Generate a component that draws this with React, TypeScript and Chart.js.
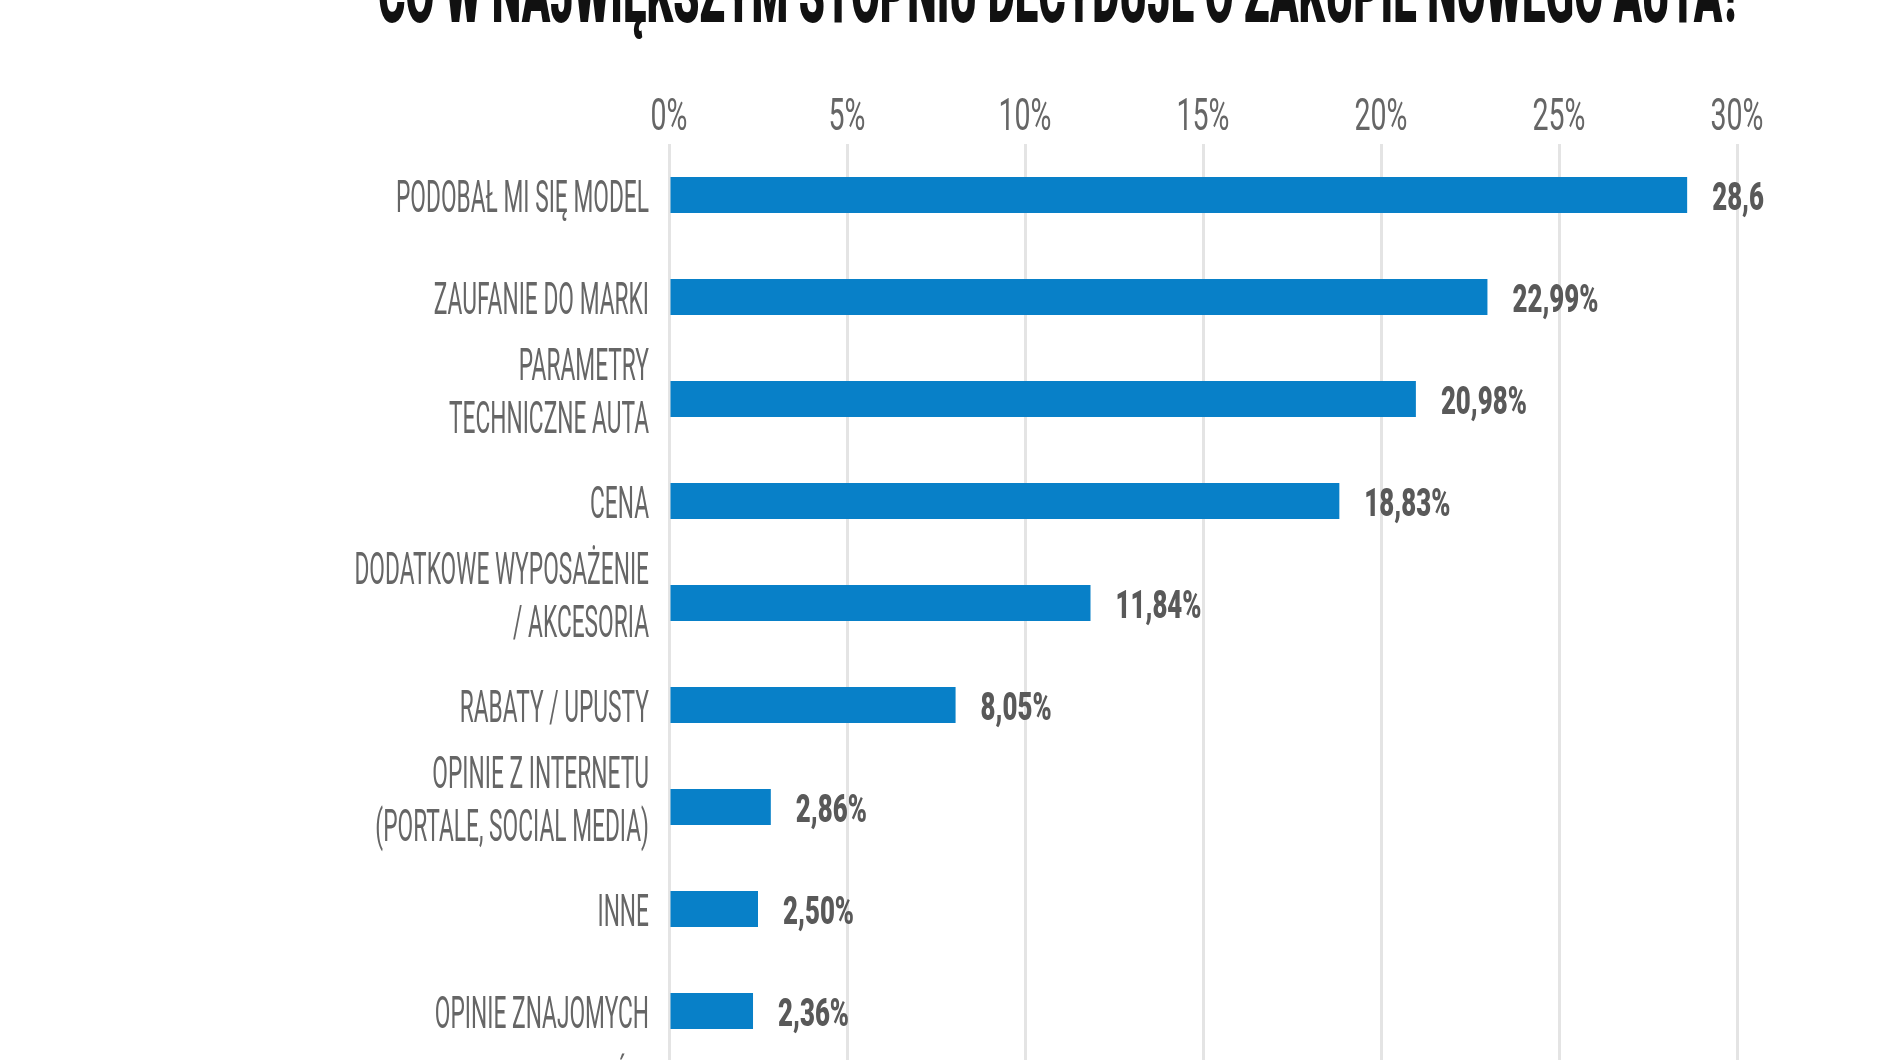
import React, { useEffect, useRef } from "react";
import { Chart, registerables } from "chart.js";

Chart.register(...registerables);

const TITLE = "CO W NAJWIĘKSZYM STOPNIU DECYDUJE O ZAKUPIE NOWEGO AUTA?";

const categories: string[][] = [
  ["PODOBAŁ MI SIĘ MODEL"],
  ["ZAUFANIE DO MARKI"],
  ["PARAMETRY", "TECHNICZNE AUTA"],
  ["CENA"],
  ["DODATKOWE WYPOSAŻENIE", "/ AKCESORIA"],
  ["RABATY / UPUSTY"],
  ["OPINIE Z INTERNETU", "(PORTALE, SOCIAL MEDIA)"],
  ["INNE"],
  ["OPINIE ZNAJOMYCH"],
  ["PALETA SILNIKÓW", ""],
];

const values: number[] = [28.6, 22.99, 20.98, 18.83, 11.84, 8.05, 2.86, 2.5, 2.36, 2.0];

const valueLabels: string[] = [
  "28,6",
  "22,99%",
  "20,98%",
  "18,83%",
  "11,84%",
  "8,05%",
  "2,86%",
  "2,50%",
  "2,36%",
  "2,00%",
];

const xTicks: number[] = [0, 5, 10, 15, 20, 25, 30];
const xTickLabels: string[] = ["0%", "5%", "10%", "15%", "20%", "25%", "30%"];

const BAR_COLOR = "#0880c8";
const LABEL_COLOR = "#666666";
const VALUE_COLOR = "#595959";

function scaleFor(ctx: CanvasRenderingContext2D, font: string, ref: string, target: number) {
  ctx.font = font;
  const w = ctx.measureText(ref).width;
  return w > 0 ? target / w : 1;
}

function drawScaled(
  ctx: CanvasRenderingContext2D,
  text: string,
  x: number,
  y: number,
  sx: number,
  align: CanvasTextAlign
) {
  ctx.save();
  ctx.translate(x, y);
  ctx.scale(sx, 1);
  ctx.textAlign = align;
  ctx.textBaseline = "alphabetic";
  ctx.fillText(text, 0, 0);
  ctx.restore();
}

const textPlugin = {
  id: "condensedText",
  afterDraw(chart: any) {
    const ctx: CanvasRenderingContext2D = chart.ctx;
    const xs = chart.scales.x;
    const ys = chart.scales.y;

    // Title
    const titleFont = '900 84px Roboto, "Open Sans", sans-serif';
    const tsx = scaleFor(ctx, titleFont, TITLE, 1364);
    ctx.font = titleFont;
    ctx.fillStyle = "#111111";
    drawScaled(ctx, TITLE, 1060, 22, tsx, "center");

    // Tick labels
    const tickFont = '400 44px Roboto, "Open Sans", sans-serif';
    const ksx = scaleFor(ctx, tickFont, "30%", 53);
    ctx.font = tickFont;
    ctx.fillStyle = LABEL_COLOR;
    xTicks.forEach((t, i) => {
      drawScaled(ctx, xTickLabels[i], xs.getPixelForValue(t), 129.5, ksx, "center");
    });

    // Category labels
    const labFont = '400 44px Roboto, "Open Sans", sans-serif';
    const lsx = scaleFor(ctx, labFont, "PODOBAŁ MI SIĘ MODEL", 253);
    ctx.font = labFont;
    ctx.fillStyle = LABEL_COLOR;
    categories.forEach((lines, i) => {
      const cy = ys.getPixelForValue(i);
      if (lines.length === 1) {
        drawScaled(ctx, lines[0], 649, cy + 1 + 15.5, lsx, "right");
      } else {
        drawScaled(ctx, lines[0], 649, cy - 35 + 15.5, lsx, "right");
        drawScaled(ctx, lines[1], 649, cy + 18 + 15.5, lsx, "right");
      }
    });

    // Value labels
    const valFont = '900 38px Roboto, "Open Sans", sans-serif';
    const vsx = scaleFor(ctx, valFont, "22,99%", 86);
    ctx.font = valFont;
    ctx.fillStyle = VALUE_COLOR;
    values.forEach((v, i) => {
      const cy = ys.getPixelForValue(i);
      drawScaled(ctx, valueLabels[i], xs.getPixelForValue(v) + 25, cy + 1 + 13.5, vsx, "left");
    });
  },
};

export default function App() {
  const canvasRef = useRef<HTMLCanvasElement | null>(null);

  useEffect(() => {
    if (!canvasRef.current) return;
    const chart = new Chart(canvasRef.current, {
      type: "bar",
      data: {
        labels: categories.map((c) => c.join(" ")),
        datasets: [
          {
            data: values,
            backgroundColor: BAR_COLOR,
            borderWidth: 0,
            barPercentage: 0.353,
            categoryPercentage: 1,
          },
        ],
      },
      options: {
        indexAxis: "y",
        responsive: false,
        maintainAspectRatio: false,
        devicePixelRatio: 1,
        animation: false,
        layout: { padding: { left: 669, right: 143, top: 144, bottom: 16 } },
        plugins: {
          legend: { display: false },
          tooltip: { enabled: false },
          title: { display: false },
        },
        scales: {
          x: {
            type: "linear",
            position: "top",
            min: 0,
            max: 30,
            ticks: { display: false, stepSize: 5 },
            grid: { color: "#e4e4e4", lineWidth: 3, drawTicks: false },
            border: { display: false },
          },
          y: {
            type: "category",
            display: false,
          },
        },
      },
      plugins: [textPlugin],
    });
    return () => chart.destroy();
  }, []);

  return (
    <div
      style={{
        position: "fixed",
        left: 0,
        top: 0,
        width: 1880,
        height: 1060,
        overflow: "hidden",
        background: "#ffffff",
      }}
    >
      <canvas ref={canvasRef} width={1880} height={1180} style={{ display: "block" }} />
    </div>
  );
}
